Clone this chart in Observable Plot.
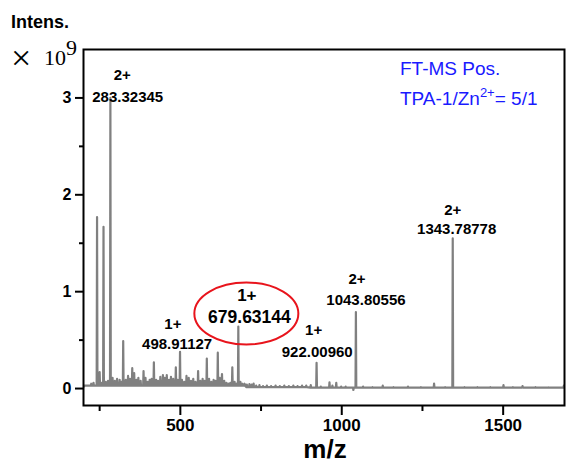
<!DOCTYPE html>
<html><head><meta charset="utf-8">
<script src="https://cdn.jsdelivr.net/npm/d3@7"></script>
<script src="https://cdn.jsdelivr.net/npm/@observablehq/plot@0.6"></script>
<style>
body{margin:0;background:#fff;}
#chart{position:relative;width:566px;height:463px;}
</style>
</head><body><div id="chart"></div>
<script>
// Spectrum peaks (m/z, intensity ×10^9)
const peakMz = [201,224,231,242,250,256,262,269,276,283.3,290,297,304,312,318,323,331,338,344,351,357,364,370,377,386,392,399,405,411,418,425,431,438,446,452,458,465,471,478,486,492,499,505,512,519,526,533,540,547,555,562,569,575,582,589,596,603,609,616,622,629,636,643,650,655,661,668,674,679.6,686,692,699,706,714,721,727,735,745,756,768,781,795,808,822,836,850,863,877,890,904,922,935,962,971,983,998,1012,1036,1043.8,1066,1095,1127,1160,1205,1245,1286,1320,1343.8,1380,1420,1460,1501,1530,1560,1600,1640,1688];
const peakInt = [0.02,0.05,0.06,1.77,0.17,0.06,1.67,0.07,0.08,3.00,0.11,0.08,0.10,0.09,0.07,0.49,0.09,0.13,0.10,0.21,0.16,0.09,0.11,0.08,0.18,0.11,0.07,0.09,0.10,0.27,0.09,0.08,0.12,0.14,0.11,0.14,0.09,0.12,0.10,0.22,0.09,0.38,0.09,0.07,0.13,0.11,0.08,0.10,0.07,0.18,0.08,0.10,0.08,0.31,0.10,0.07,0.09,0.08,0.37,0.11,0.15,0.08,0.06,0.05,0.06,0.22,0.07,0.05,0.64,0.07,0.05,0.05,0.04,0.045,0.04,0.05,0.03,0.035,0.025,0.03,0.025,0.03,0.025,0.03,0.025,0.03,0.025,0.03,0.03,0.035,0.265,0.02,0.065,0.03,0.06,0.02,0.02,-0.015,0.79,0.02,0.015,0.03,0.015,0.02,0.015,0.05,0.015,1.55,0.015,0.015,0.015,0.035,0.015,0.025,0.015,0.012,0.03];
// baseline level between peaks, by m/z range
const baseBreaks = [700, 900];
const baseLevels = [0.03, 0.015, 0.01];

// axis ticks
const yTicks = [0, 1, 2, 3];
const yMinorTicks = [0.5, 1.5, 2.5];
const xTicks = [500, 1000, 1500];
const xMinorTicks = [250, 750, 1250];

// peak annotations
const massLabels = ["283.32345", "498.91127", "679.63144", "922.00960", "1043.80556", "1343.78778"];
const massLabelMz = [337, 490, 714, 924, 1075, 1356];
const massLabelInt = [3.01, 0.46, 0.735, 0.38, 0.915, 1.64];
const chargeLabels = ["2+", "1+", "1+", "1+", "2+", "2+"];
const chargeLabelMz = [320, 477, 706, 913, 1047, 1344];
const chargeLabelInt = [3.23, 0.66, 0.96, 0.60, 1.13, 1.845];
const highlighted = 2; // index of circled annotation
const highlightMz = 706, highlightInt = 0.77;

const halfWidth = 1.2;
const footLevel = m => baseLevels[d3.bisectRight(baseBreaks, m)];
const spec = [];
peakMz.forEach((m, i) => {
  const f = footLevel(m);
  spec.push({mz: m - halfWidth, v: f}, {mz: m, v: peakInt[i]}, {mz: m + halfWidth, v: f});
});
spec.sort((a, b) => a.mz - b.mz);

const normal = massLabels.map((d, i) => i).filter(i => i !== highlighted);
const font = "'Liberation Sans', Arial, sans-serif";
const fmt = d => String(d);

const plot = Plot.plot({
  width: 566, height: 463,
  marginLeft: 83, marginRight: 2, marginTop: 49, marginBottom: 58,
  x: {domain: [200, 1690]},
  y: {domain: [-0.175, 3.5]},
  style: {fontFamily: font, background: "white", overflow: "visible", color: "black"},
  marks: [
    Plot.line(spec, {x: "mz", y: "v", stroke: "#808080", strokeWidth: 2.2, clip: true}),
    Plot.frame({stroke: "black", strokeWidth: 2}),
    Plot.axisY(yTicks, {tickSize: 8, tickPadding: 4, fontSize: 16, fontWeight: "bold", strokeWidth: 2, tickFormat: fmt, label: null}),
    Plot.axisY(yMinorTicks, {tickSize: 4, tickFormat: () => "", strokeWidth: 2, label: null}),
    Plot.axisX(xTicks, {tickSize: 10, tickPadding: 3, fontSize: 17, fontWeight: "bold", strokeWidth: 2, tickFormat: fmt, label: null}),
    Plot.axisX(xMinorTicks, {tickSize: 6, tickFormat: () => "", strokeWidth: 2, label: null}),
    Plot.text(normal, {x: i => massLabelMz[i], y: i => massLabelInt[i], text: i => massLabels[i], fontSize: 15, fontWeight: "bold", fill: "black"}),
    Plot.text(normal, {x: i => chargeLabelMz[i], y: i => chargeLabelInt[i], text: i => chargeLabels[i], fontSize: 15, fontWeight: "bold", fill: "black"}),
    Plot.text([highlighted], {x: i => massLabelMz[i], y: i => massLabelInt[i], text: i => massLabels[i], fontSize: 17.5, fontWeight: "bold", fill: "black"}),
    Plot.text([highlighted], {x: i => chargeLabelMz[i], y: i => chargeLabelInt[i], text: i => chargeLabels[i], fontSize: 17, fontWeight: "bold", fill: "black"})
  ]
});

const svg = d3.select(plot);
const xs = plot.scale("x"), ys = plot.scale("y");
svg.append("ellipse")
  .attr("cx", xs.apply(highlightMz)).attr("cy", ys.apply(highlightInt))
  .attr("rx", 52).attr("ry", 31)
  .attr("fill", "none").attr("stroke", "#e8141c").attr("stroke-width", 2);

svg.append("text").attr("x", 11).attr("y", 28).attr("text-anchor", "start")
  .attr("font-family", font).attr("font-size", 18).attr("font-weight", "bold").text("Intens.");
const serif = "'Liberation Serif', 'Times New Roman', serif";
svg.append("text").attr("x", 11).attr("y", 70).attr("text-anchor", "start")
  .attr("font-family", serif).attr("font-size", 36).text("×");
const p = svg.append("text").attr("x", 44).attr("y", 65).attr("text-anchor", "start")
  .attr("font-family", serif).attr("font-size", 22);
p.append("tspan").text("10");
p.append("tspan").attr("dy", -10).text("9");

const blue = "#1a1aff";
svg.append("text").attr("x", 400).attr("y", 75).attr("text-anchor", "start")
  .attr("font-family", font).attr("font-size", 19).attr("fill", blue).text("FT-MS Pos.");
const t2 = svg.append("text").attr("x", 400).attr("y", 105).attr("text-anchor", "start")
  .attr("font-family", font).attr("font-size", 19).attr("fill", blue);
t2.append("tspan").text("TPA-1/Zn");
t2.append("tspan").attr("dy", -8).attr("font-size", 13).text("2+");
t2.append("tspan").attr("dy", 8).text("= 5/1");

svg.append("text").attr("x", 325).attr("y", 458).attr("text-anchor", "middle")
  .attr("font-family", font).attr("font-size", 26).attr("font-weight", "bold").text("m/z");

document.getElementById("chart").appendChild(plot);
</script>
</body></html>
